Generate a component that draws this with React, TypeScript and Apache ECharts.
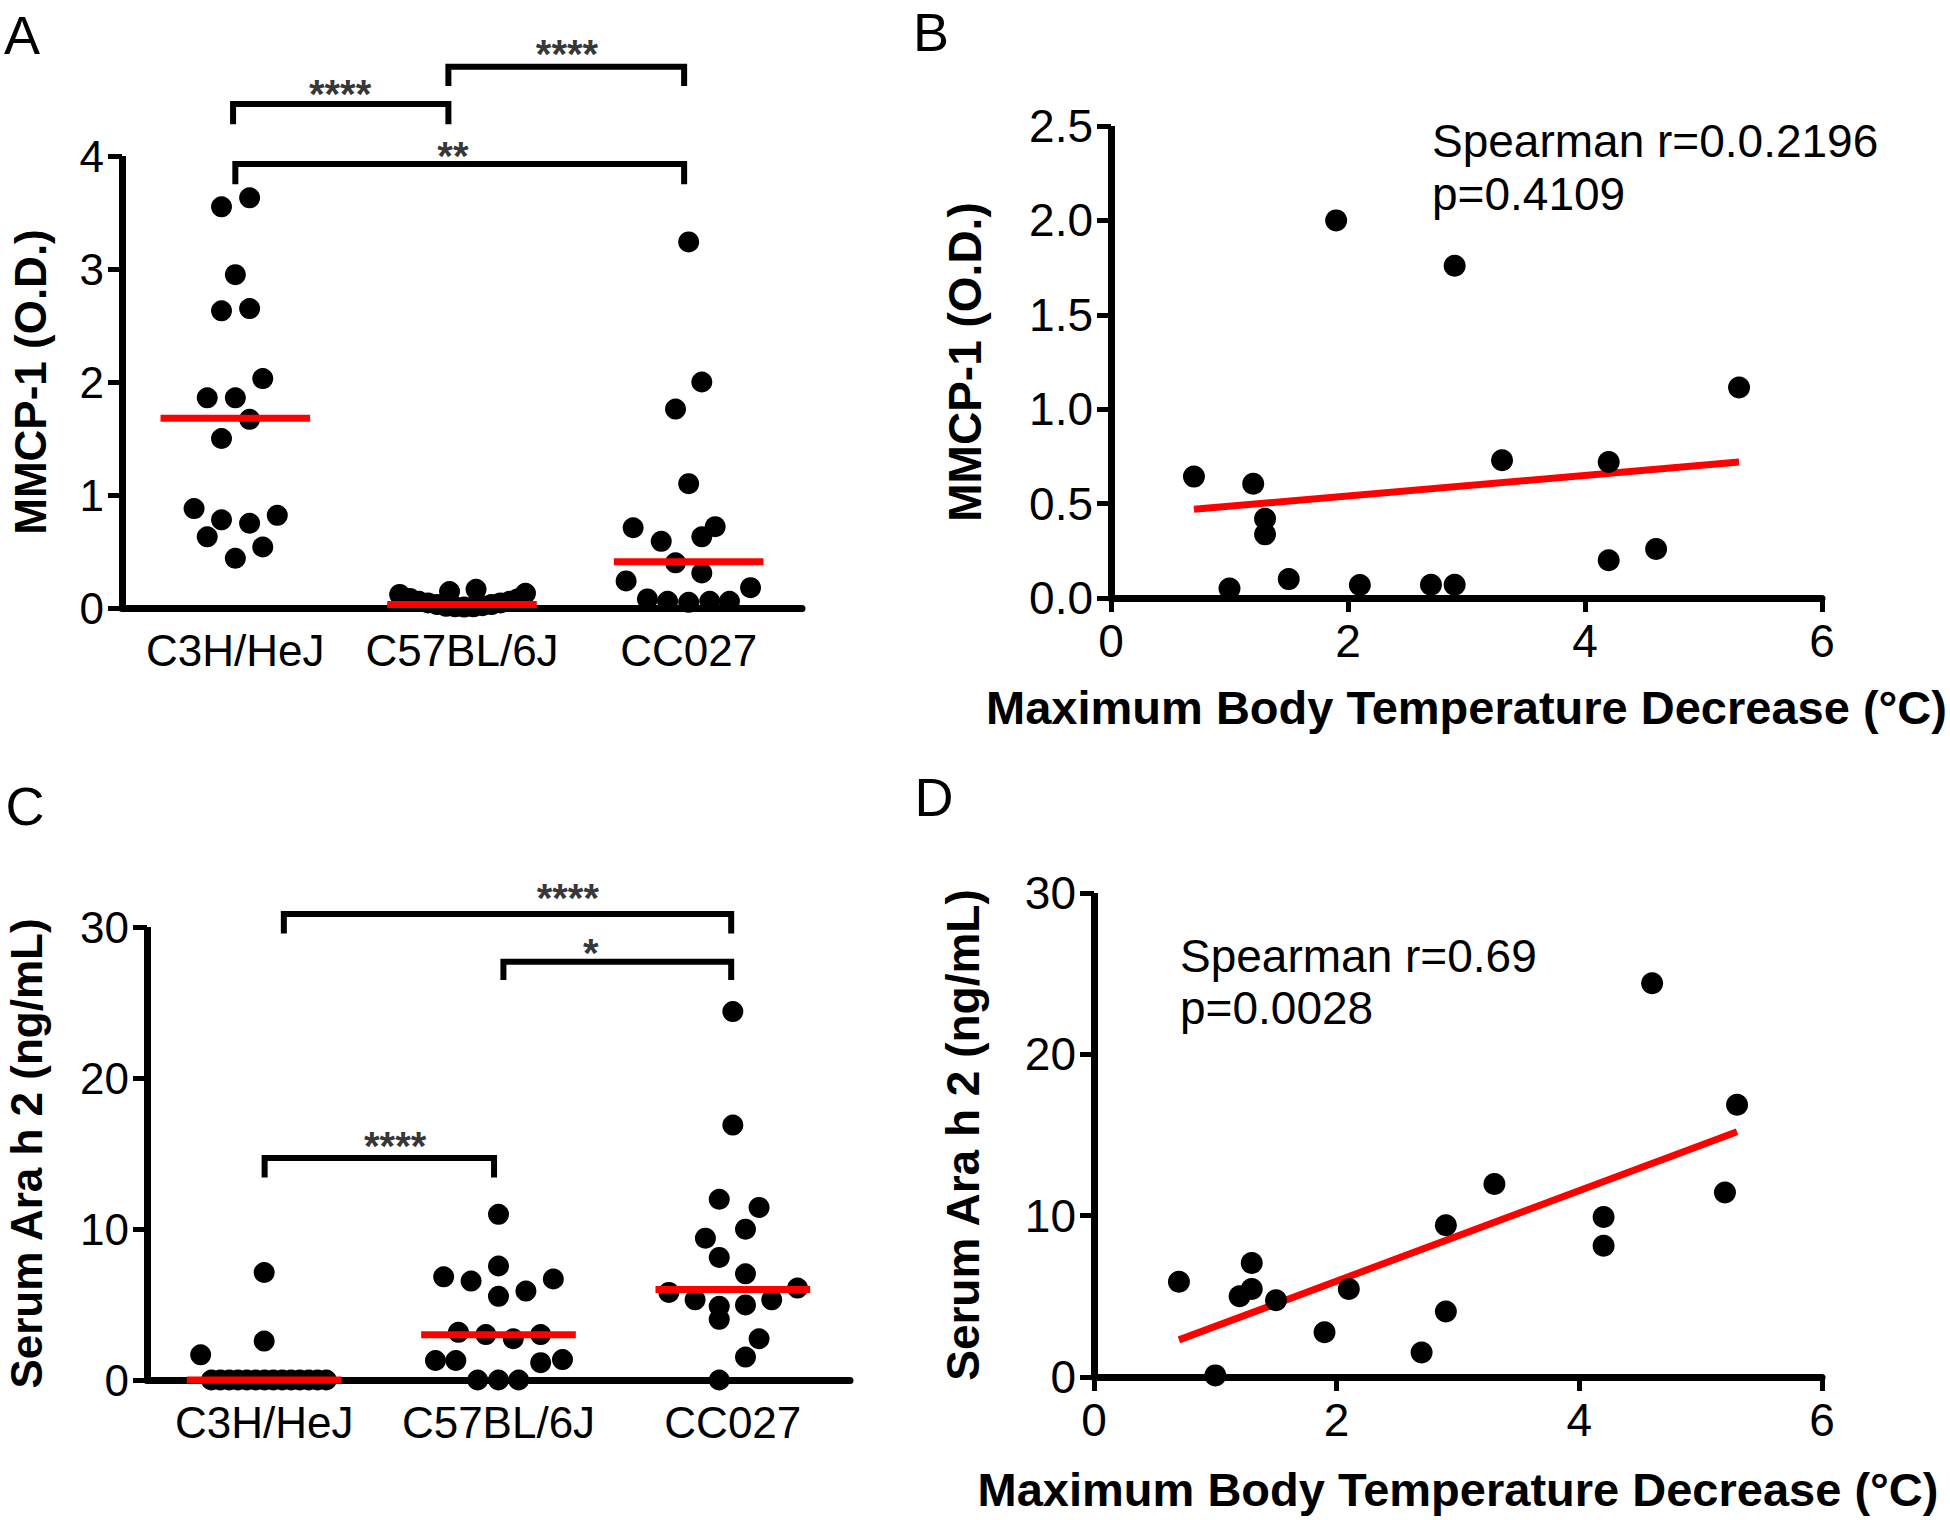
import React, { useEffect, useRef } from 'react';
import * as echarts from 'echarts';

// ---------- shared ----------
const CATEGORIES = ['C3H/HeJ', 'C57BL/6J', 'CC027'];

// ---------- Panel A: MMCP-1 (O.D.) by strain ----------
const A_C3H_VALUES = [3.63, 3.55, 2.95, 2.63, 2.65, 2.03, 1.86, 1.86, 1.67, 1.5, 0.88, 0.78, 0.75, 0.82, 0.63, 0.54, 0.44];
const A_C3H_JITTER = [0.063, -0.061, 0, -0.061, 0.063, 0.121, -0.124, 0, 0.063, -0.061, -0.182, -0.061, 0.063, 0.185, -0.124, 0.121, 0];
const A_C57_VALUES = [0.12, 0.145, 0.166, 0.13, 0.085, 0.06, 0.045, 0.03, 0.015, 0.01, 0.008, 0.01, 0.02, 0.03, 0.045, 0.06, 0.08];
const A_C57_JITTER = [-0.275, -0.055, 0.062, 0.28, -0.23, -0.19, -0.15, -0.11, -0.07, -0.03, 0.01, 0.05, 0.09, 0.13, 0.17, 0.21, 0.245];
const A_CC027_VALUES = [3.24, 2.0, 1.76, 1.1, 0.71, 0.72, 0.59, 0.63, 0.4, 0.31, 0.24, 0.18, 0.08, 0.06, 0.05, 0.06, 0.06];
const A_CC027_JITTER = [0, 0.058, -0.058, 0, -0.245, 0.117, -0.121, 0.058, -0.058, 0.058, -0.276, 0.273, -0.182, -0.093, 0, 0.093, 0.18];
const A_MEDIANS = [1.68, 0.03, 0.41];
// brackets: [from, to, top, bottom]
const A_BRACKETS = [
  [0.49, 1.44, 4.46, 4.28],
  [1.44, 2.48, 4.79, 4.62],
  [0.5, 2.48, 3.93, 3.75],
];
// significance labels: [x, y, text]
const A_STARS: [number, number, string][] = [
  [0.962, 4.55, '****'],
  [1.963, 4.9, '****'],
  [1.46, 4.0, '**'],
];

// ---------- Panel B: MMCP-1 vs temperature decrease ----------
const B_TEMP = [0.7, 1.2, 1.3, 1.3, 1.0, 1.5, 1.9, 2.1, 2.7, 2.9, 2.9, 3.3, 4.2, 4.2, 4.6, 5.3];
const B_MMCP = [0.643, 0.605, 0.42, 0.337, 0.05, 0.1, 2.0, 0.069, 0.07, 1.76, 0.07, 0.73, 0.72, 0.2, 0.26, 1.115];
const B_FIT_X = [0.7, 5.3];
const B_FIT_Y = [0.47, 0.72];

// ---------- Panel C: Serum Ara h 2 by strain ----------
const C_C3H_VALUES = [1.67, 7.12, 2.58, 0, 0, 0, 0, 0, 0, 0, 0, 0, 0, 0, 0, 0, 0];
const C_C3H_JITTER = [-0.271, 0, 0, -0.225, -0.187, -0.149, -0.112, -0.074, -0.036, 0.002, 0.039, 0.077, 0.115, 0.152, 0.19, 0.228, 0.265];
const C_C57_VALUES = [10.97, 7.55, 6.83, 6.55, 6.69, 5.89, 5.54, 3.16, 3.01, 2.73, 3.01, 1.29, 1.29, 1.15, 1.35, 0, 0, 0];
const C_C57_JITTER = [0, 0, -0.234, -0.117, 0.234, 0.117, 0, -0.171, -0.054, 0.063, 0.18, -0.269, -0.182, 0.18, 0.273, -0.089, 0, 0.086];
const C_CC027_VALUES = [24.4, 16.88, 11.97, 11.43, 9.99, 9.39, 8.12, 7.03, 5.8, 5.31, 4.88, 4.97, 5.31, 6.09, 4.02, 2.73, 1.52, 0];
const C_CC027_JITTER = [0, 0, -0.058, 0.112, 0.054, -0.117, -0.058, 0.054, -0.273, -0.161, -0.058, 0.054, 0.166, 0.276, -0.058, 0.112, 0.054, -0.058];
const C_MEDIANS = [0, 3.0, 6.0];
const C_BRACKETS = [
  [0.584, 2.493, 30.86, 29.57],
  [1.521, 2.493, 27.7, 26.49],
  [0.502, 1.481, 14.7, 13.41],
];
const C_STARS: [number, number, string][] = [
  [1.796, 31.9, '****'],
  [1.894, 28.3, '*'],
  [1.059, 15.5, '****'],
];

// ---------- Panel D: Ara h 2 vs temperature decrease ----------
const D_TEMP = [0.7, 1.0, 1.2, 1.3, 1.3, 1.5, 1.9, 2.1, 2.7, 2.9, 2.9, 3.3, 4.2, 4.2, 4.6, 5.2, 5.3];
const D_ARAH2 = [5.9, 0.1, 5.0, 7.06, 5.46, 4.76, 2.77, 5.46, 1.52, 9.4, 4.06, 11.96, 9.92, 8.14, 24.4, 11.44, 16.87];
const D_FIT_X = [0.7, 5.3];
const D_FIT_Y = [2.3, 15.2];

const FONT = "'Liberation Sans', Arial, Helvetica, sans-serif";
const LETTER_FONT = "'Liberation Sans', Arial, sans-serif";

function colPoints(values: number[], jitter: number[], idx: number) {
  return values.map((v, i) => [idx + 0.5 + jitter[i], v]);
}

function valueYAxis(gridIndex: number, max: number, interval: number, name: string, nameGap: number, fs: number, nfs: number, dec: number) {
  return {
    type: 'value', gridIndex, min: 0, max, interval, name, nameLocation: 'middle', nameGap,
    nameTextStyle: { fontSize: nfs, fontWeight: 'bold', fontFamily: FONT, color: '#000' },
    axisLine: { show: true, onZero: false, lineStyle: { color: '#000', width: 7, cap: 'butt' } },
    axisTick: { show: true, inside: false, length: 14, lineStyle: { color: '#000', width: 5 } },
    axisLabel: { color: '#000', fontSize: fs, fontFamily: FONT, margin: 18, formatter: (v: number) => v.toFixed(dec) },
    splitLine: { show: false },
  };
}

function catXAxis(gridIndex: number, fs: number) {
  return {
    type: 'value', gridIndex, min: 0, max: 3,
    axisLine: { show: true, onZero: false, lineStyle: { color: '#000', width: 7 } },
    axisTick: { show: false },
    axisLabel: {
      color: '#000', fontSize: fs, fontFamily: FONT, margin: 20,
      customValues: [0.5, 1.5, 2.5],
      formatter: (v: number) => CATEGORIES[Math.floor(v)] ?? '',
    },
    splitLine: { show: false },
  };
}

function numXAxis(gridIndex: number, name: string, nameGap: number, fs: number, nfs: number) {
  return {
    type: 'value', gridIndex, min: 0, max: 6, interval: 2, name, nameLocation: 'middle', nameGap,
    nameTextStyle: { fontSize: nfs, fontWeight: 'bold', fontFamily: FONT, color: '#000' },
    axisLine: { show: true, onZero: false, lineStyle: { color: '#000', width: 7 } },
    axisTick: { show: true, length: 14, lineStyle: { color: '#000', width: 5 } },
    axisLabel: { color: '#000', fontSize: fs, fontFamily: FONT, margin: 20 },
    splitLine: { show: false },
  };
}

function dots(axisIdx: number, data: number[][], size: number) {
  return {
    type: 'scatter', xAxisIndex: axisIdx, yAxisIndex: axisIdx, data, symbol: 'circle', symbolSize: size,
    itemStyle: { color: '#000', opacity: 1 }, clip: false, z: 4, silent: true,
  };
}

function redLine(axisIdx: number, data: number[][], z: number) {
  return {
    type: 'line', xAxisIndex: axisIdx, yAxisIndex: axisIdx, data, symbol: 'none', clip: false, z, silent: true,
    lineStyle: { color: '#ff0000', width: 7, cap: 'butt' },
  };
}

function bracketSeries(axisIdx: number, b: number[]) {
  const [x1, x2, top, bottom] = b;
  return {
    type: 'line', xAxisIndex: axisIdx, yAxisIndex: axisIdx, symbol: 'none', clip: false, silent: true,
    data: [[x1, bottom], [x1, top], [x2, top], [x2, bottom]],
    lineStyle: { color: '#000', width: 6, cap: 'butt', join: 'miter' },
  };
}

function starSeries(axisIdx: number, stars: [number, number, string][]) {
  return {
    type: 'scatter', xAxisIndex: axisIdx, yAxisIndex: axisIdx, symbolSize: 1, clip: false, silent: true,
    itemStyle: { color: 'rgba(0,0,0,0)' },
    data: stars.map(([x, y, t]) => ({ name: t, value: [x, y] })),
    label: { show: true, position: 'inside', formatter: (p: any) => p.name, fontSize: 40, fontWeight: 'bold', fontFamily: FONT, color: '#000' },
  };
}

export default function App() {
  const ref = useRef<HTMLDivElement>(null);
  useEffect(() => {
    if (!ref.current) return;
    const chart = echarts.init(ref.current, null, { renderer: 'svg' });
    const series: any[] = [];
    // Panel A
    const aPts = [
      ...colPoints(A_C3H_VALUES, A_C3H_JITTER, 0),
      ...colPoints(A_C57_VALUES, A_C57_JITTER, 1),
      ...colPoints(A_CC027_VALUES, A_CC027_JITTER, 2),
    ];
    series.push(dots(0, aPts, 21));
    A_MEDIANS.forEach((m, i) => series.push(redLine(0, [[i + 0.17, m], [i + 0.83, m]], 6)));
    A_BRACKETS.forEach((b) => series.push(bracketSeries(0, b)));
    series.push(starSeries(0, A_STARS));
    // Panel B
    series.push(redLine(1, B_FIT_X.map((x, i) => [x, B_FIT_Y[i]]), 3));
    series.push(dots(1, B_TEMP.map((x, i) => [x, B_MMCP[i]]), 22));
    // Panel C
    const cPts = [
      ...colPoints(C_C3H_VALUES, C_C3H_JITTER, 0),
      ...colPoints(C_C57_VALUES, C_C57_JITTER, 1),
      ...colPoints(C_CC027_VALUES, C_CC027_JITTER, 2),
    ];
    series.push(dots(2, cPts, 21));
    C_MEDIANS.forEach((m, i) => series.push(redLine(2, [[i + 0.17, m], [i + 0.83, m]], 6)));
    C_BRACKETS.forEach((b) => series.push(bracketSeries(2, b)));
    series.push(starSeries(2, C_STARS));
    // Panel D
    series.push(redLine(3, D_FIT_X.map((x, i) => [x, D_FIT_Y[i]]), 3));
    series.push(dots(3, D_TEMP.map((x, i) => [x, D_ARAH2[i]]), 22));

    const xTitle = 'Maximum Body Temperature Decrease (°C)';
    const letter = (text: string, x: number, y: number) => ({
      type: 'text', x, y,
      style: { text, fontSize: 54, fontFamily: LETTER_FONT, fill: '#000', align: 'center', verticalAlign: 'middle' },
    });
    const note = (text: string, x: number, y: number) => ({
      type: 'text', x, y,
      style: { text, fontSize: 46, fontFamily: FONT, fill: '#000', align: 'left', verticalAlign: 'middle' },
    });
    const option: any = {
      animation: false,
      backgroundColor: '#ffffff',
      grid: [
        { left: 122, top: 156, width: 680, height: 452, containLabel: false, outerBoundsMode: 'none' },
        { left: 1111, top: 126, width: 711, height: 472, containLabel: false, outerBoundsMode: 'none' },
        { left: 147, top: 927, width: 703, height: 453, containLabel: false, outerBoundsMode: 'none' },
        { left: 1094, top: 893, width: 728, height: 484, containLabel: false, outerBoundsMode: 'none' },
      ],
      xAxis: [
        catXAxis(0, 44),
        numXAxis(1, xTitle, 86, 46, 47),
        catXAxis(2, 44),
        numXAxis(3, xTitle, 89, 46, 47),
      ],
      yAxis: [
        valueYAxis(0, 4, 1, 'MMCP-1 (O.D.)', 70, 44, 44, 0),
        valueYAxis(1, 2.5, 0.5, 'MMCP-1 (O.D.)', 123, 46, 46, 1),
        valueYAxis(2, 30, 10, 'Serum Ara h 2 (ng/mL)', 99, 44, 44, 0),
        valueYAxis(3, 30, 10, 'Serum Ara h 2 (ng/mL)', 108, 46, 46, 0),
      ],
      graphic: [
        letter('A', 22, 35),
        letter('B', 931, 32),
        letter('C', 25, 806),
        letter('D', 934, 797),
        note('Spearman r=0.0.2196', 1432, 141),
        note('p=0.4109', 1432, 194),
        note('Spearman r=0.69', 1180, 956),
        note('p=0.0028', 1180, 1008),
      ],
      series,
    };
    chart.setOption(option);
    return () => chart.dispose();
  }, []);
  return <div ref={ref} style={{ position: 'absolute', left: 0, top: 0, width: 1950, height: 1520 }} />;
}
